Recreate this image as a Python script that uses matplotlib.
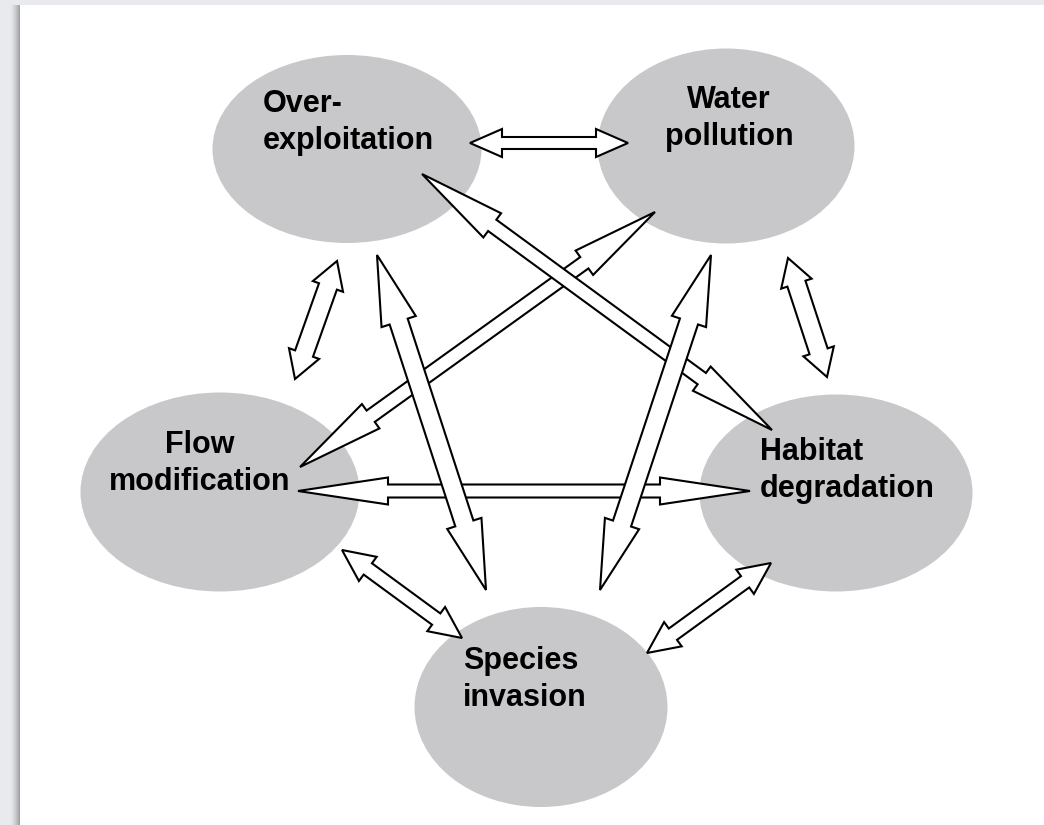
import numpy as np
import matplotlib
matplotlib.use("Agg")
import matplotlib.pyplot as plt
from matplotlib.patches import Ellipse, Polygon, Rectangle

# ---- data ----
nodes = ["Over-\nexploitation", "Water\npollution", "Flow\nmodification",
         "Habitat\ndegradation", "Species\ninvasion"]
edges = [(0, 1), (0, 2), (0, 4), (0, 3), (1, 2), (1, 4), (1, 3), (2, 3), (2, 4), (3, 4)]

# ---- layout (pixel coordinates of the canvas) ----
centers = [(347, 149), (726, 146), (220, 492), (836, 493), (541, 707)]
sizes = [(269, 188), (257, 195), (279, 199), (273, 197), (253, 200)]
text_pos = [(263, 149, "left"), (729, 145, "center"), (200, 490, "center"),
            (760, 497, "left"), (463, 706, "left")]
# arrow tips (start, end), shaft width, head width, head length
arrow_geom = {
    (0, 1): ((470, 143), (628, 143), 12, 28, 32),
    (0, 2): ((337, 261), (295, 379), 19, 32, 27),
    (0, 4): ((377, 255), (486, 590), 19, 36, 70),
    (0, 3): ((422, 174), (772, 430), 14, 30, 87),
    (1, 2): ((655, 212), (300, 467), 14, 30, 87),
    (1, 4): ((711, 255), (600, 590), 19, 36, 70),
    (1, 3): ((788, 258), (827, 377), 19, 32, 27),
    (2, 3): ((298, 491), (750, 491), 13, 27, 90),
    (2, 4): ((342, 550), (462, 638), 14, 30, 32),
    (3, 4): ((771, 563), (647, 653), 14, 30, 32),
}

W, H = 1044, 825
fig = plt.figure(figsize=(W / 100, H / 100), dpi=100, facecolor="#e9eaee")
ax = fig.add_axes([0, 0, 1, 1])
ax.set_xlim(0, W)
ax.set_ylim(H, 0)
ax.axis("off")

# soft shadow on the left of the page, then the page
for i in range(10):
    ax.add_patch(Rectangle((10 + i, 5), W, H, facecolor="black", alpha=0.012 * (i + 1) / 2,
                           edgecolor="none", zorder=0))
ax.add_patch(Rectangle((20, 5), W, H, facecolor="white", edgecolor="none", zorder=1))

ell_color = "#c8c8ca"
for (cx, cy), (w, h) in zip(centers, sizes):
    ax.add_patch(Ellipse((cx, cy), w, h, facecolor=ell_color, edgecolor="none", zorder=2))

def double_arrow(p0, p1, sw, hw, hl):
    p0 = np.array(p0, float)
    p1 = np.array(p1, float)
    d = p1 - p0
    L = np.hypot(*d)
    u = d / L
    n = np.array([-u[1], u[0]])
    pts = [
        p0,
        p0 + u * hl + n * hw / 2,
        p0 + u * hl + n * sw / 2,
        p1 - u * hl + n * sw / 2,
        p1 - u * hl + n * hw / 2,
        p1,
        p1 - u * hl - n * hw / 2,
        p1 - u * hl - n * sw / 2,
        p0 + u * hl - n * sw / 2,
        p0 + u * hl - n * hw / 2,
    ]
    return np.array(pts)

order = [(0, 1), (0, 2), (1, 3), (2, 4), (3, 4), (1, 2), (0, 3), (2, 3), (0, 4), (1, 4)]
for z, e in enumerate(order):
    p0, p1, sw, hw, hl = arrow_geom[e]
    ax.add_patch(Polygon(double_arrow(p0, p1, sw, hw, hl), closed=True,
                         facecolor="white", edgecolor="black", lw=1.5,
                         joinstyle="miter", zorder=3 + z * 0.01))

for label, (x, y, ha) in zip(nodes, text_pos):
    ax.text(x, y, label, ha=ha, va="baseline", multialignment=ha,
            fontsize=22, fontweight="bold", family="Liberation Sans",
            linespacing=1.3, color="black", zorder=5)

fig.savefig("out.png", dpi=100, facecolor=fig.get_facecolor())
